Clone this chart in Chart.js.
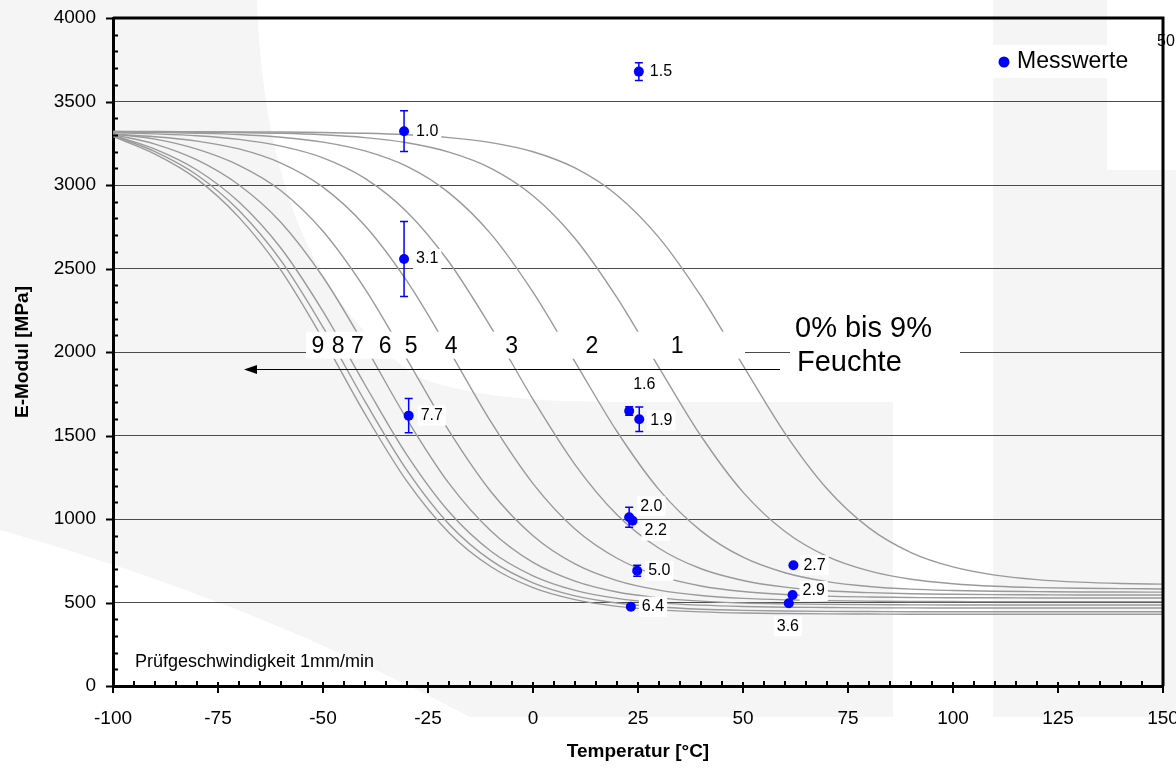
<!DOCTYPE html>
<html>
<head>
<meta charset="utf-8">
<script src="https://cdn.jsdelivr.net/npm/chart.js@4.4.0/dist/chart.umd.min.js"></script>
<style>
  html, body { margin: 0; padding: 0; background: #fff; }
  canvas { display: block; }
</style>
</head>
<body>
<canvas id="chart" width="1176" height="771"></canvas>
<script>
// Stützstellen der Kurven [°C]
const temps = [-100, -90, -80, -70, -60, -50, -40, -30, -20, -10, 0, 10, 20, 30, 40, 50, 60, 70, 80, 90, 100, 110, 120, 130, 140, 150];

// E-Modul [MPa] je Feuchtegehalt (0 % ... 9 %)
const feuchte0 = [3320, 3320, 3319, 3318, 3317, 3314, 3310, 3301, 3284, 3254, 3199, 3102, 2939, 2685, 2334, 1920, 1513, 1181, 947, 799, 713, 664, 637, 622, 614, 610];
const feuchte1 = [3320, 3318, 3317, 3314, 3310, 3301, 3284, 3253, 3197, 3100, 2936, 2680, 2325, 1907, 1497, 1161, 925, 776, 689, 639, 612, 597, 589, 585, 583, 581];
const feuchte2 = [3317, 3315, 3310, 3302, 3286, 3257, 3204, 3111, 2953, 2706, 2358, 1941, 1524, 1176, 929, 771, 678, 625, 596, 580, 572, 567, 565, 563, 563, 562];
const feuchte3 = [3313, 3306, 3295, 3273, 3233, 3163, 3040, 2839, 2539, 2148, 1717, 1326, 1026, 825, 702, 632, 592, 570, 559, 552, 549, 547, 546, 545, 545, 545];
const feuchte4 = [3304, 3289, 3263, 3216, 3131, 2987, 2756, 2424, 2011, 1581, 1212, 940, 765, 659, 599, 566, 548, 538, 533, 530, 528, 528, 527, 527, 527, 527];
const feuchte5 = [3305, 3275, 3215, 3118, 2966, 2723, 2378, 1956, 1527, 1163, 900, 731, 631, 574, 542, 525, 516, 511, 508, 506, 506, 505, 505, 505, 505, 505];
const feuchte6 = [3302, 3245, 3150, 3000, 2776, 2449, 2035, 1597, 1213, 928, 740, 628, 563, 528, 508, 497, 492, 489, 487, 486, 485, 485, 485, 485, 485, 485];
const feuchte7 = [3298, 3215, 3090, 2898, 2621, 2243, 1804, 1382, 1043, 807, 660, 573, 525, 498, 484, 476, 472, 470, 468, 468, 467, 467, 467, 467, 467, 467];
const feuchte8 = [3295, 3200, 3060, 2847, 2547, 2149, 1704, 1291, 969, 752, 618, 540, 497, 473, 460, 453, 449, 447, 446, 445, 445, 445, 445, 445, 445, 445];
const feuchte9 = [3290, 3185, 3035, 2806, 2489, 2077, 1629, 1225, 918, 714, 589, 517, 477, 456, 444, 437, 434, 432, 431, 430, 430, 430, 430, 430, 430, 430];
const kurven = [feuchte0, feuchte1, feuchte2, feuchte3, feuchte4, feuchte5, feuchte6, feuchte7, feuchte8, feuchte9];

// Messwerte
const messT = [-30.7, 25.2, -30.7, -29.6, 22.9, 25.3, 22.9, 23.7, 24.8, 23.3, 62.0, 61.8, 60.9];
const messE = [3322, 3679, 2557, 1619, 1647, 1597, 1010, 990, 690, 475, 723, 545, 495];
const messFehler = [122, 53, 225, 103, 25, 73, 60, 0, 33, 0, 0, 0, 0];
const messLabels = ['1.0', '1.5', '3.1', '7.7', '1.6', '1.9', '2.0', '2.2', '5.0', '6.4', '2.7', '2.9', '3.6'];

// Kurvenbeschriftung (Feuchte in %) und ihre Lage auf der Temperaturachse
const kurvenLabels = ['9', '8', '7', '6', '5', '4', '3', '2', '1'];
const kurvenLabelT = [-51.2, -46.4, -41.8, -35.2, -29.0, -19.5, -5.1, 14.0, 34.3];
const kurvenLabelE = 2032;

const FONT = "'Liberation Sans', Arial, sans-serif";
Chart.defaults.font.family = FONT;
Chart.defaults.color = '#000';

// Versatz der Wertbeschriftungen zum Messpunkt [px]
const labelVersatz = [[12, 0], [11, 0], [12, 0], [12, 0], [4, -26], [11, 1], [11, -11], [12, 10], [11, 0], [11, 0], [10, 0], [10, -4], [-12, 23]];

// Hintergrund (Wasserzeichen)
const hintergrund = {
    id: 'hintergrund',
    beforeDraw(chart) {
        const ctx = chart.ctx;
        ctx.save();
        ctx.fillStyle = '#f5f5f5';
        ctx.fillRect(0, 0, 1176, 717);
        ctx.fillStyle = '#ffffff';
        ctx.beginPath();
        ctx.moveTo(257, 0);
        ctx.bezierCurveTo(262, 150, 300, 300, 420, 378);
        ctx.bezierCurveTo(480, 400, 560, 402, 620, 402);
        ctx.lineTo(893, 402);
        ctx.lineTo(893, 717);
        ctx.lineTo(993, 717);
        ctx.lineTo(993, 0);
        ctx.closePath();
        ctx.fill();
        ctx.fillRect(1107, 0, 69, 170);
        ctx.beginPath();
        ctx.moveTo(0, 530);
        ctx.quadraticCurveTo(250, 600, 470, 717);
        ctx.lineTo(0, 717);
        ctx.closePath();
        ctx.fill();
        ctx.restore();
    }
};

// Fehlerbalken, Beschriftungen, Pfeil
const beschriftung = {
    id: 'beschriftung',
    afterDatasetsDraw(chart) {
        const { ctx, scales: { x, y } } = chart;
        ctx.save();

        // Fehlerbalken
        ctx.strokeStyle = '#0000ff';
        ctx.lineWidth = 1.5;
        messT.forEach((t, i) => {
            const f = messFehler[i];
            if (!f) return;
            const px = x.getPixelForValue(t);
            const oben = y.getPixelForValue(messE[i] + f);
            const unten = y.getPixelForValue(messE[i] - f);
            ctx.beginPath();
            ctx.moveTo(px, oben); ctx.lineTo(px, unten);
            ctx.moveTo(px - 4, oben); ctx.lineTo(px + 4, oben);
            ctx.moveTo(px - 4, unten); ctx.lineTo(px + 4, unten);
            ctx.stroke();
        });

        // Wertbeschriftungen
        ctx.font = '16px ' + FONT;
        ctx.textBaseline = 'middle';
        ctx.textAlign = 'left';
        messLabels.forEach((txt, i) => {
            const px = x.getPixelForValue(messT[i]) + labelVersatz[i][0];
            const py = y.getPixelForValue(messE[i]) + labelVersatz[i][1];
            const w = ctx.measureText(txt).width;
            ctx.fillStyle = '#fff';
            ctx.fillRect(px - 3, py - 10, w + 6, 20);
            ctx.fillStyle = '#000';
            ctx.fillText(txt, px, py);
        });

        // Kurvennummern
        const ky = y.getPixelForValue(kurvenLabelE);
        ctx.fillStyle = '#fff';
        ctx.fillRect(306, ky - 15, 439, 27);
        ctx.font = '23px ' + FONT;
        ctx.textAlign = 'center';
        ctx.fillStyle = '#000';
        kurvenLabels.forEach((txt, i) => {
            ctx.fillText(txt, x.getPixelForValue(kurvenLabelT[i]), ky);
        });

        // Feuchte-Beschriftung
        ctx.fillStyle = '#fff';
        ctx.fillRect(790, 312, 170, 66);
        ctx.fillStyle = '#000';
        ctx.textAlign = 'left';
        ctx.font = '29px ' + FONT;
        ctx.fillText('0% bis 9%', 795, 329);
        ctx.fillText('Feuchte', 797, 363);

        // Pfeil
        ctx.strokeStyle = '#000';
        ctx.lineWidth = 1;
        ctx.beginPath();
        ctx.moveTo(780, 369.5);
        ctx.lineTo(255, 369.5);
        ctx.stroke();
        ctx.beginPath();
        ctx.moveTo(244, 369.5);
        ctx.lineTo(257, 365);
        ctx.lineTo(257, 374);
        ctx.closePath();
        ctx.fill();

        // Hinweis Prüfgeschwindigkeit
        ctx.font = '18px ' + FONT;
        ctx.fillText('Prüfgeschwindigkeit 1mm/min', 135, 662);

        ctx.restore();
    },
    afterDraw(chart) {
        const { ctx, chartArea: a, scales: { x, y } } = chart;
        ctx.save();
        ctx.strokeStyle = '#000';

        // Rahmen oben und rechts
        ctx.lineWidth = 3;
        ctx.beginPath();
        ctx.moveTo(a.left, a.top);
        ctx.lineTo(a.right, a.top);
        ctx.lineTo(a.right, a.bottom);
        ctx.stroke();

        // Teilstriche
        ctx.lineWidth = 2;
        ctx.beginPath();
        for (let v = 0; v <= 4000; v += 100) {
            const py = Math.round(y.getPixelForValue(v)) + 0.5;
            if (v % 500 === 0) { ctx.moveTo(a.left - 7, py); ctx.lineTo(a.left, py); }
            else { ctx.moveTo(a.left, py); ctx.lineTo(a.left + 5, py); }
        }
        for (let v = -100; v <= 150; v += 5) {
            const px = Math.round(x.getPixelForValue(v));
            if (v % 25 === 0) { ctx.moveTo(px, a.bottom - 4); ctx.lineTo(px, a.bottom + 7); }
            else { ctx.moveTo(px, a.bottom - 5); ctx.lineTo(px, a.bottom); }
        }
        ctx.stroke();

        // Legende
        ctx.fillStyle = '#fff';
        ctx.fillRect(993, 45, 114, 33);
        ctx.fillStyle = '#0000ff';
        ctx.beginPath();
        ctx.arc(1004, 62, 5.5, 0, Math.PI * 2);
        ctx.fill();
        ctx.fillStyle = '#000';
        ctx.font = '23px ' + FONT;
        ctx.textBaseline = 'middle';
        ctx.textAlign = 'left';
        ctx.fillText('Messwerte', 1017, 62);
        ctx.font = '16px ' + FONT;
        ctx.fillText('50', 1157, 42);
        ctx.restore();
    }
};

const kurvenDatasets = kurven.map((werte, k) => ({
    label: k + '% Feuchte',
    data: temps.map((t, i) => ({ x: t, y: werte[i] })),
    borderColor: '#9a9a9a',
    borderWidth: 1.4,
    pointRadius: 0,
    fill: false,
    cubicInterpolationMode: 'monotone',
    order: 1
}));

new Chart(document.getElementById('chart'), {
    type: 'line',
    data: {
        datasets: [{
            label: 'Messwerte',
            data: messT.map((t, i) => ({ x: t, y: messE[i] })),
            showLine: false,
            pointRadius: 5,
            pointBackgroundColor: '#0000ff',
            pointBorderColor: '#0000ff',
            pointBorderWidth: 0,
            order: 0
        }, ...kurvenDatasets]
    },
    options: {
        responsive: false,
        animation: false,
        layout: { padding: { top: 18, right: 13, left: 0, bottom: 0 } },
        plugins: {
            legend: { display: false },
            tooltip: { enabled: false }
        },
        scales: {
            x: {
                type: 'linear',
                min: -100,
                max: 150,
                ticks: { stepSize: 25, autoSkip: false, maxRotation: 0, padding: 21, font: { size: 19 }, callback: v => String(v) },
                grid: { display: false, drawTicks: false },
                border: { color: '#000', width: 3 },
                title: { display: true, text: 'Temperatur [°C]', font: { size: 19, weight: 'bold' }, padding: { top: 0, bottom: 8 } },
                afterFit(s) { s.height = 85; s.paddingLeft = 0; s.paddingRight = 0; }
            },
            y: {
                min: 0,
                max: 4000,
                ticks: { stepSize: 500, padding: 17, font: { size: 19 }, callback: v => String(v) },
                grid: {
                    drawTicks: false,
                    color: c => (c.tick && (c.tick.value === 0 || c.tick.value === 4000)) ? 'rgba(0,0,0,0)' : '#4a4a4a',
                    lineWidth: 1
                },
                border: { color: '#000', width: 3 },
                title: { display: true, text: 'E-Modul [MPa]', font: { size: 19, weight: 'bold' }, padding: { top: 11, bottom: 0 } },
                afterFit(s) { s.width = 113; s.paddingTop = 0; s.paddingBottom = 0; }
            }
        }
    },
    plugins: [hintergrund, beschriftung]
});
</script>
</body>
</html>
